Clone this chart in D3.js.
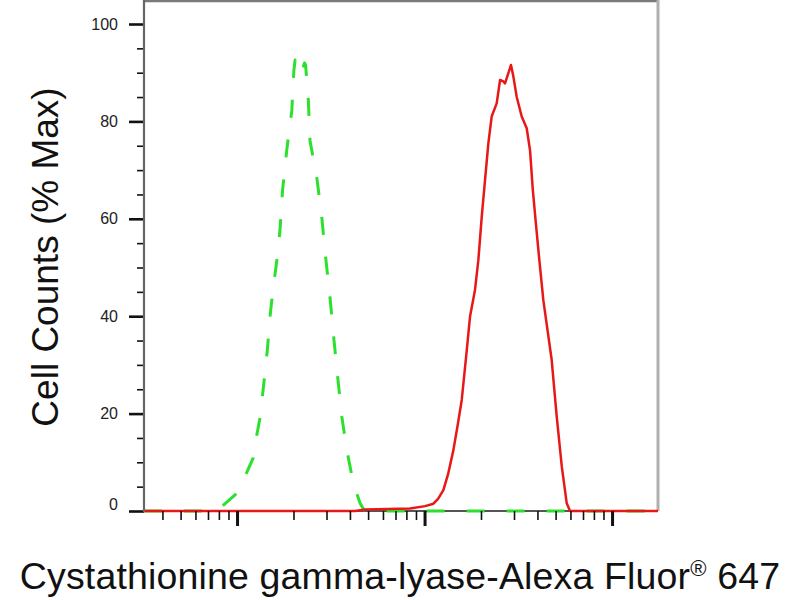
<!DOCTYPE html>
<html>
<head>
<meta charset="utf-8">
<script src="https://cdn.jsdelivr.net/npm/d3@7"></script>
<style>
  html, body { margin: 0; padding: 0; background: #fff; }
  svg { display: block; }
  text { font-family: "Liberation Sans", Arial, sans-serif; }
</style>
</head>
<body>
<svg id="chart" width="800" height="600"></svg>
<script>
// ---- data (fluorescence intensity, % of max) ----
const greenX = [3.19, 6.35, 7.63, 8.29, 9.76, 11.0, 12.2, 12.7, 13.3, 13.9, 14.5, 15.0, 15.5, 16.3, 16.95, 17.5, 18.4, 19.6, 20.1, 20.4, 21.1, 22.1, 22.9, 23.2, 24.0, 24.5, 26.6, 28.3, 29.5, 31.3, 32.9, 34.4, 36.2, 38.5, 41.7, 45.3, 47.6, 51.2, 1758];
const greenY = [0, 0, 0.2, 0.9, 3.3, 7, 10.9, 15.3, 19.4, 26.3, 33, 40, 45, 51.5, 57.7, 66, 74, 82.3, 90.5, 92.6, 90, 90, 92, 91.6, 84.4, 76, 68.6, 60.4, 53, 44, 35, 27.6, 19.4, 12.5, 5.7, 1.6, 0.2, 0, 0];

const redX = [3.19, 42.6, 48.2, 83.7, 100.7, 111.5, 118, 126, 133.4, 142.5, 150, 157.9, 167.9, 174.9, 185.8, 193.6, 201.8, 210.2, 218.9, 228, 242.5, 252.8, 263.2, 268.7, 279.9, 289.1, 297.6, 310.2, 329.7, 350.6, 365.4, 377.8, 393.6, 409.5, 430, 476.5, 506.9, 539.5, 573, 597, 1758];
const redY = [0, 0, 0.3, 0.5, 1.0, 1.5, 2.5, 4.3, 7.5, 12.5, 17.5, 22.8, 33, 40, 45.4, 51.5, 60.4, 68, 75.5, 81, 83.7, 88.5, 88.2, 87.8, 89.9, 91.6, 89.2, 85, 81, 78.6, 74, 66, 58.5, 51.5, 43.3, 31, 19.4, 9.1, 1.6, 0, 0];

const yMajorTicks = [0, 20, 40, 60, 80, 100];
const yMinorTicks = [5, 10, 15, 25, 30, 35, 45, 50, 55, 65, 70, 75, 85, 90, 95];
const xMajorTicks = [10, 100, 1000];
const xMinorTicks = [4, 5, 6, 7, 8, 9, 20, 30, 40, 50, 60, 70, 80, 90, 200, 300, 400, 500, 600, 700, 800, 900];

const xTitle = "Cystathionine gamma-lyase-Alexa Fluor";
const xTitleSup = "®";
const xTitleEnd = " 647";
const yTitle = "Cell Counts (% Max)";

// ---- layout ----
const pLeft = 144, pTop = 1, pBottom = 511;
const svg = d3.select("#chart");

const x = d3.scaleLog().domain([3.19, 1758]).range([pLeft, 658]);
const y = d3.scaleLinear().domain([0, 100]).range([pBottom, 24]);

// frame: top and right borders
svg.append("line").attr("x1", pLeft).attr("x2", 659).attr("y1", pTop).attr("y2", pTop)
  .attr("stroke", "#7a7a7a").attr("stroke-width", 2.5);
svg.append("line").attr("x1", 658).attr("x2", 658).attr("y1", 0).attr("y2", pBottom)
  .attr("stroke", "#b0b0b0").attr("stroke-width", 3);

// bottom axis line
svg.append("line").attr("x1", pLeft).attr("x2", 658).attr("y1", pBottom).attr("y2", pBottom)
  .attr("stroke", "#555").attr("stroke-width", 2);

// curves
const greenData = greenX.map((v, i) => [v, greenY[i]]);
const redData = redX.map((v, i) => [v, redY[i]]);
const line = d3.line().x(d => x(d[0])).y(d => y(d[1])).curve(d3.curveLinear);

svg.append("path").datum(greenData).attr("d", line)
  .attr("fill", "none").attr("stroke", "#2ee02e").attr("stroke-width", 3)
  .attr("stroke-dasharray", "18,22").attr("stroke-linejoin", "round");

svg.append("path").datum(redData).attr("d", line)
  .attr("fill", "none").attr("stroke", "#e81818").attr("stroke-width", 2.5)
  .attr("stroke-linejoin", "round");

// y axis
const yAxisMajor = d3.axisLeft(y).tickValues(yMajorTicks).tickSize(15).tickPadding(11)
  .tickFormat(d3.format("d"));
const gy = svg.append("g").attr("transform", `translate(${pLeft},0)`).call(yAxisMajor);
gy.select(".domain").remove();
gy.selectAll(".tick line").attr("stroke", "#111").attr("stroke-width", 2.6);
gy.selectAll(".tick text").attr("font-size", 16).attr("fill", "#222")
  .attr("font-family", "'Liberation Sans', Arial, sans-serif")
  .attr("dy", d => d === 0 ? "-0.1em" : "0.32em");

const yAxisMinor = d3.axisLeft(y).tickValues(yMinorTicks).tickSize(7).tickFormat("");
const gym = svg.append("g").attr("transform", `translate(${pLeft},0)`).call(yAxisMinor);
gym.select(".domain").remove();
gym.selectAll(".tick line").attr("stroke", "#111").attr("stroke-width", 1.6);

svg.append("line").attr("x1", pLeft).attr("x2", pLeft).attr("y1", 0).attr("y2", pBottom + 1)
  .attr("stroke", "#666").attr("stroke-width", 2.2);

// x axis
const xAxisMajor = d3.axisBottom(x).tickValues(xMajorTicks).tickSize(15).tickFormat("");
const gx = svg.append("g").attr("transform", `translate(0,${pBottom})`).call(xAxisMajor);
gx.select(".domain").remove();
gx.selectAll(".tick line").attr("stroke", "#111").attr("stroke-width", 3);

const xAxisMinor = d3.axisBottom(x).tickValues(xMinorTicks).tickSize(9).tickFormat("");
const gxm = svg.append("g").attr("transform", `translate(0,${pBottom})`).call(xAxisMinor);
gxm.select(".domain").remove();
gxm.selectAll(".tick line").attr("stroke", "#111").attr("stroke-width", 1.6);

// titles
const xt = svg.append("text").attr("x", 400).attr("y", 589).attr("text-anchor", "middle")
  .attr("font-size", 37.5).attr("letter-spacing", 0.15).attr("fill", "#111");
xt.append("tspan").text(xTitle);
xt.append("tspan").attr("font-size", 22).attr("dy", -13).text(xTitleSup);
xt.append("tspan").attr("dy", 13).text(xTitleEnd);

svg.append("text").attr("transform", "translate(58,257) rotate(-90)")
  .attr("text-anchor", "middle").attr("font-size", 37).attr("fill", "#111")
  .text(yTitle);
</script>
</body>
</html>
